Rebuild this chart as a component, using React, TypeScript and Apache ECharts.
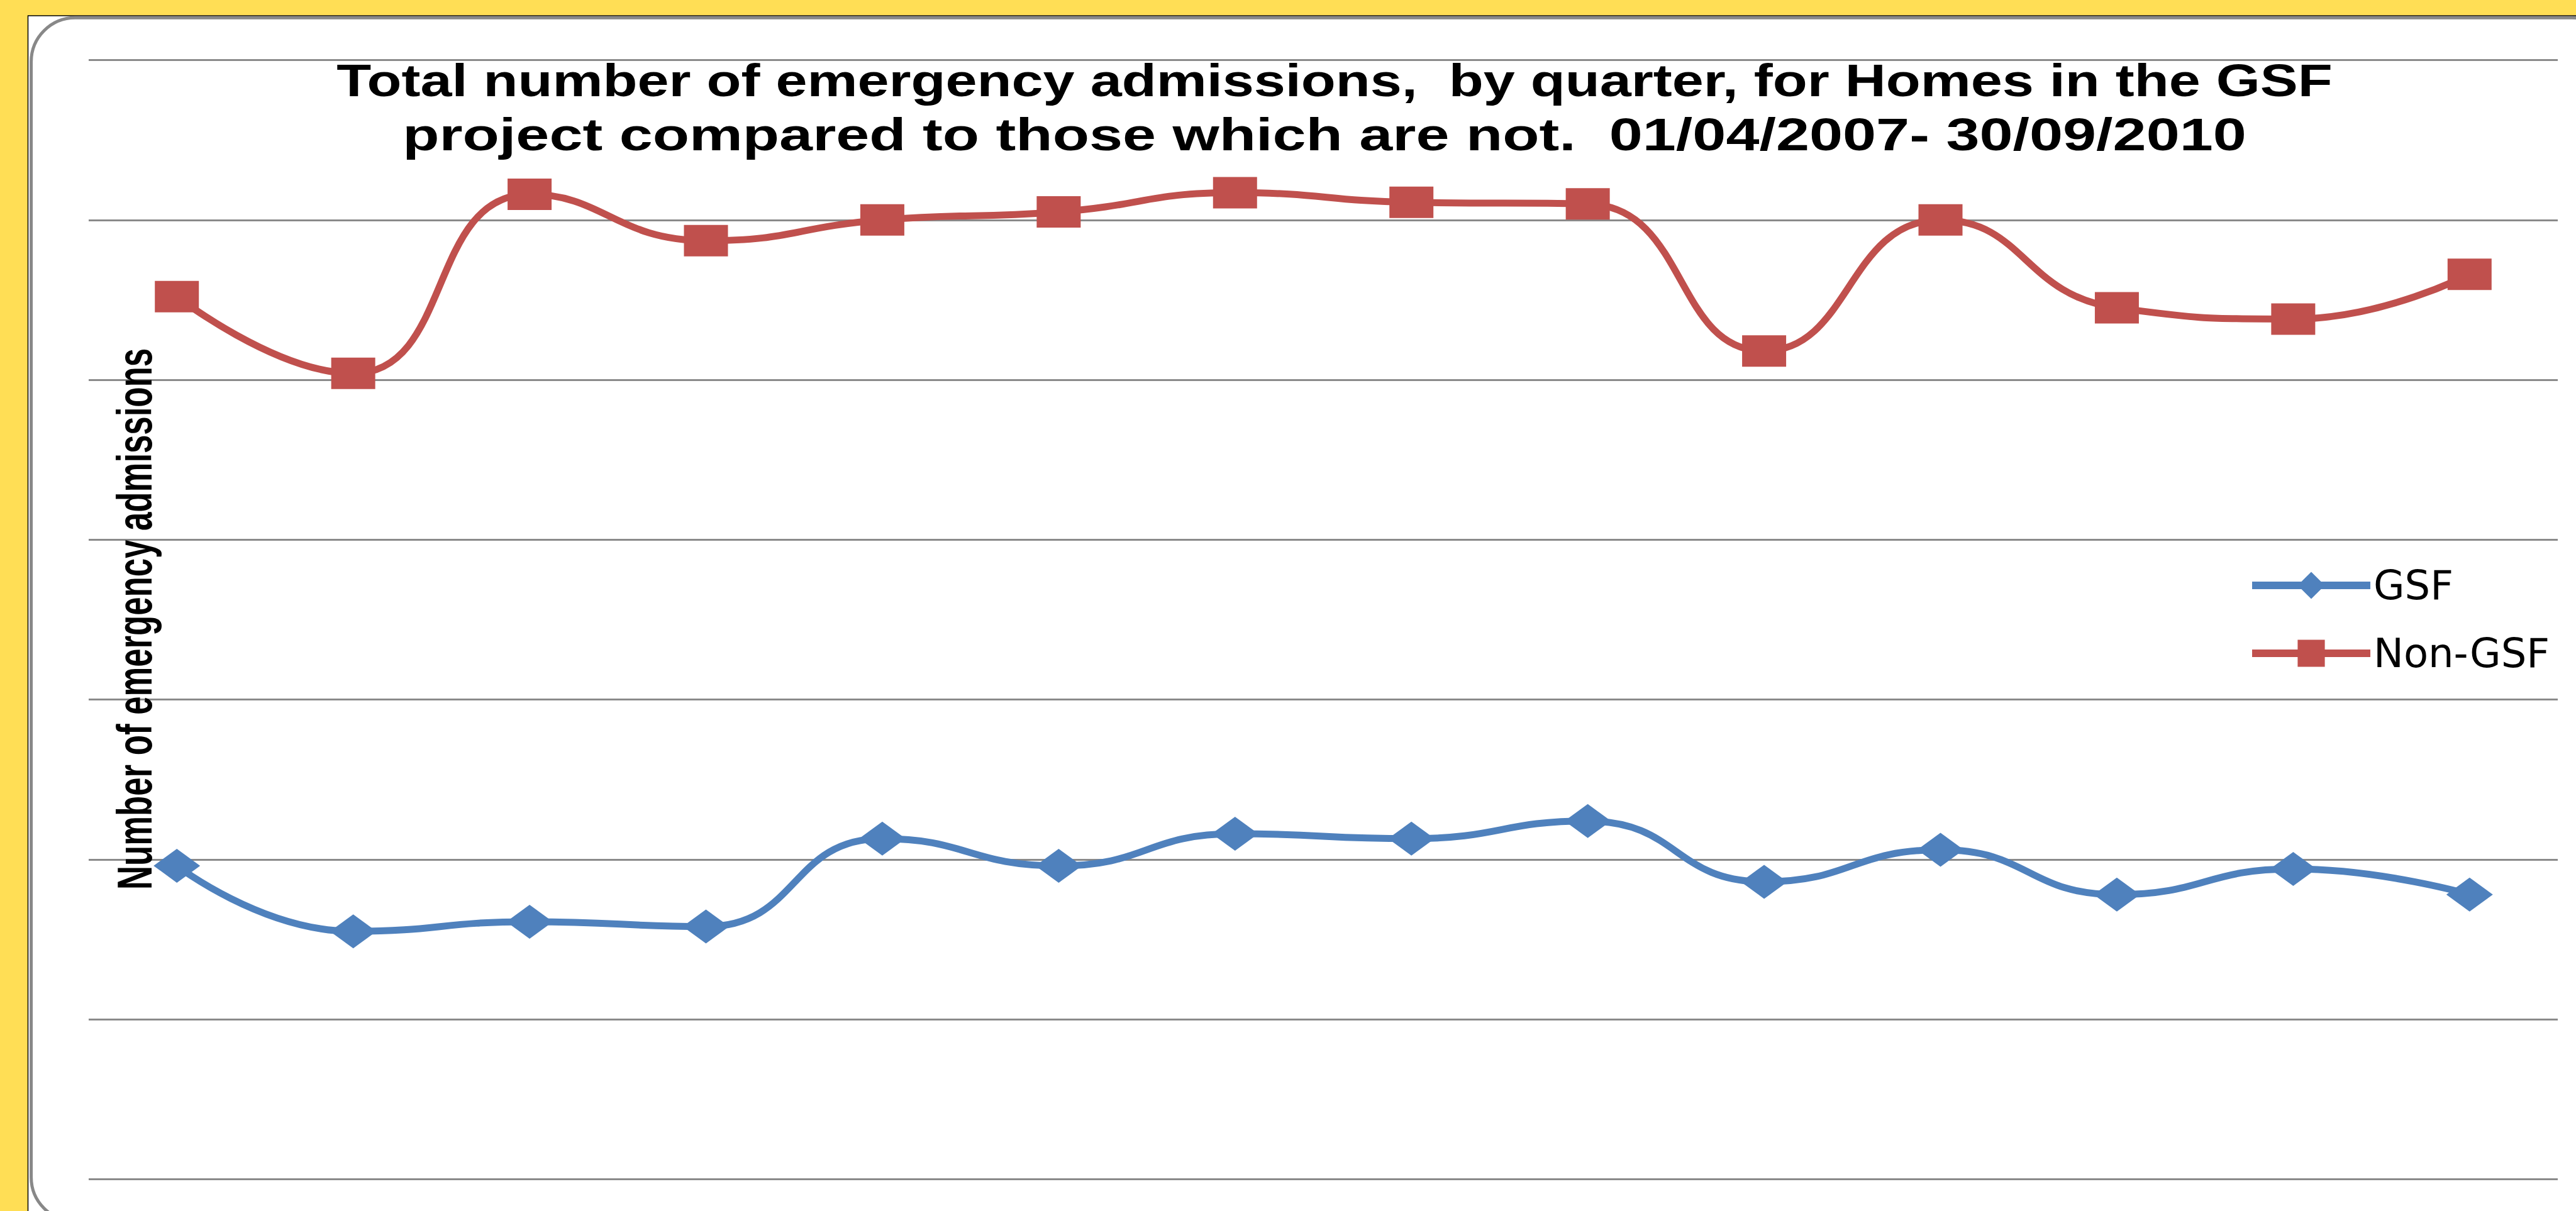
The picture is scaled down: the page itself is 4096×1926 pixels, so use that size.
import React, { useEffect, useRef } from "react";
import * as echarts from "echarts";

const quarters = [
  "Apr-Jun 2007", "Jul-Sep 2007", "Oct-Dec 2007", "Jan-Mar 2008",
  "Apr-Jun 2008", "Jul-Sep 2008", "Oct-Dec 2008", "Jan-Mar 2009",
  "Apr-Jun 2009", "Jul-Sep 2009", "Oct-Dec 2009", "Jan-Mar 2010",
  "Apr-Jun 2010", "Jul-Sep 2010",
];
const gsfValues = [196, 155, 161, 158, 213, 196, 216, 213, 224, 186, 206, 178, 194, 178];
const nonGsfValues = [552, 504, 616, 587, 600, 605, 617, 611, 610, 518, 600, 545, 538, 566];
const seriesNames = ["GSF", "Non-GSF"];
const titleLines = [
  "Total number of emergency admissions,  by quarter, for Homes in the GSF",
  "project compared to those which are not.  01/04/2007- 30/09/2010",
];
const yAxisTitle = "Number of emergency admissions";

const BLUE = "#4F81BD";
const RED = "#C0504D";

export default function App() {
  const ref = useRef<HTMLDivElement>(null);
  useEffect(() => {
    if (!ref.current) return;
    const chart = echarts.init(ref.current, null, { renderer: "svg" });
    chart.setOption({
      animation: false,
      backgroundColor: "#FFDE55",
      graphic: [
        {
          type: "rect",
          z: -20,
          shape: { x: 44.5, y: 25, width: 4100, height: 1930 },
          style: { fill: "#ffffff", stroke: "#000000", lineWidth: 1.5 },
          silent: true,
        },
        {
          type: "rect",
          z: -19,
          shape: { x: 49.6, y: 28.3, width: 4110, height: 1914, r: 70 },
          style: { fill: "#ffffff", stroke: "#888888", lineWidth: 5 },
          silent: true,
        },
        {
          type: "text",
          z: 10,
          x: 2122,
          y: 128,
          scaleX: 1.25,
          style: {
            text: titleLines[0],
            font: "bold 72px 'Liberation Sans', Arial, sans-serif",
            fill: "#000000",
            align: "center",
            verticalAlign: "middle",
          },
        },
        {
          type: "text",
          z: 10,
          x: 2106,
          y: 214,
          scaleX: 1.325,
          style: {
            text: titleLines[1],
            font: "bold 72px 'Liberation Sans', Arial, sans-serif",
            fill: "#000000",
            align: "center",
            verticalAlign: "middle",
          },
        },
        {
          type: "text",
          z: 10,
          x: 214,
          y: 984.5,
          rotation: Math.PI / 2,
          scaleY: 1.47,
          style: {
            text: yAxisTitle,
            font: "bold 52.7px 'Liberation Sans', Arial, sans-serif",
            fill: "#000000",
            align: "center",
            verticalAlign: "middle",
          },
        },
      ],
      legend: {
        orient: "vertical",
        left: 3570,
        top: 894,
        itemWidth: 188,
        itemHeight: 54,
        itemGap: 44,
        data: seriesNames,
        lineStyle: { width: 12 },
        textStyle: {
          fontFamily: "'DejaVu Sans', sans-serif",
          fontSize: 64,
          color: "#000000",
        },
      },
      grid: { left: 141, right: 29, top: 95.5, bottom: 50.7 },
      xAxis: {
        type: "category",
        data: quarters,
        boundaryGap: true,
        axisLine: { show: false },
        axisTick: { show: false },
        axisLabel: { show: false },
        splitLine: { show: false },
      },
      yAxis: {
        type: "value",
        min: 0,
        max: 700,
        interval: 100,
        axisLine: { show: false },
        axisTick: { show: false },
        axisLabel: { show: false },
        splitLine: { show: true, lineStyle: { color: "#8a8a8a", width: 3 } },
      },
      series: [
        {
          name: seriesNames[0],
          type: "line",
          data: gsfValues,
          smooth: true,
          symbol: "diamond",
          symbolSize: [74, 54],
          lineStyle: { color: BLUE, width: 11 },
          itemStyle: { color: BLUE },
        },
        {
          name: seriesNames[1],
          type: "line",
          data: nonGsfValues,
          smooth: true,
          symbol: "rect",
          symbolSize: [70, 50],
          lineStyle: { color: RED, width: 11 },
          itemStyle: { color: RED },
        },
      ],
    });
    return () => chart.dispose();
  }, []);
  return (
    <div
      ref={ref}
      style={{ position: "fixed", left: 0, top: 0, width: 4096, height: 1926 }}
    />
  );
}
